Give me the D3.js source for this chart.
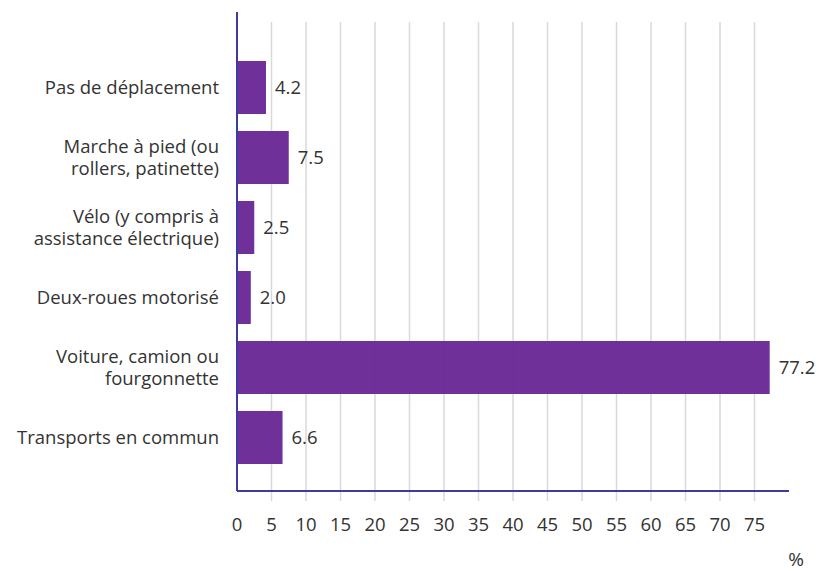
<!DOCTYPE html>
<html>
<head>
<meta charset="utf-8">
<script src="https://cdn.jsdelivr.net/npm/d3@7"></script>
<style>
  body { margin: 0; background: #fff; }
  svg { display: block; font-family: "Open Sans", sans-serif; }
</style>
</head>
<body>
<svg id="chart" width="820" height="571"></svg>
<script>
// Mode de transport principal pour aller travailler (%)
const categories = [
  ["Pas de déplacement"],
  ["Marche à pied (ou", "rollers, patinette)"],
  ["Vélo (y compris à", "assistance électrique)"],
  ["Deux-roues motorisé"],
  ["Voiture, camion ou", "fourgonnette"],
  ["Transports en commun"]
];
const values = [4.2, 7.5, 2.5, 2.0, 77.2, 6.6];
const tickValues = [0, 5, 10, 15, 20, 25, 30, 35, 40, 45, 50, 55, 60, 65, 70, 75];
const unitLabel = "%";

const svg = d3.select("#chart");
const x0 = 237, x1 = 789, yAxis = 491;
const fs = 18.5;

const x = d3.scaleLinear().domain([0, 80]).range([x0, x1]);
const y = d3.scaleBand()
  .domain(d3.range(categories.length))
  .range([44, 481])
  .paddingInner(0.243)
  .paddingOuter(0.243);

// vertical grid lines, extended below the axis as tick marks
svg.append("g")
  .selectAll("line")
  .data(tickValues.slice(1))
  .join("line")
  .attr("x1", d => x(d)).attr("x2", d => x(d))
  .attr("y1", 22).attr("y2", yAxis + 10)
  .attr("stroke", "#d9d9d9")
  .attr("stroke-width", 1.5);

// bars
svg.append("g")
  .selectAll("rect")
  .data(values)
  .join("rect")
  .attr("x", x(0))
  .attr("y", (d, i) => y(i))
  .attr("width", d => x(d) - x(0))
  .attr("height", y.bandwidth())
  .attr("fill", "#6a2896")
  .attr("fill-opacity", 0.96);

// value labels
svg.append("g")
  .selectAll("text")
  .data(values)
  .join("text")
  .attr("x", d => x(d) + 9)
  .attr("y", (d, i) => y(i) + y.bandwidth() / 2)
  .attr("dy", "0.35em")
  .attr("font-size", fs)
  .attr("fill", "#333")
  .text(d => d.toFixed(1));

// category labels
const cat = svg.append("g")
  .selectAll("text")
  .data(categories)
  .join("text")
  .attr("text-anchor", "end")
  .attr("font-size", fs)
  .attr("fill", "#333")
  .attr("y", (d, i) => y(i) + y.bandwidth() / 2);
cat.each(function (lines) {
  const t = d3.select(this);
  const lh = 22;
  lines.forEach((ln, k) => {
    t.append("tspan")
      .attr("x", 219)
      .attr("dy", k === 0 ? (0.35 - (lines.length - 1) * lh / 2 / fs) + "em" : lh)
      .text(ln);
  });
});

// x tick labels
svg.append("g")
  .selectAll("text")
  .data(tickValues)
  .join("text")
  .attr("x", d => x(d))
  .attr("y", 525)
  .attr("dy", "0.35em")
  .attr("text-anchor", "middle")
  .attr("font-size", fs)
  .attr("fill", "#333")
  .text(d => d);

// axis lines
svg.append("line")
  .attr("x1", x0).attr("x2", x0)
  .attr("y1", 12).attr("y2", yAxis)
  .attr("stroke", "#3d3aa0").attr("stroke-width", 2);
svg.append("line")
  .attr("x1", x0).attr("x2", x1)
  .attr("y1", yAxis).attr("y2", yAxis)
  .attr("stroke", "#3d3aa0").attr("stroke-width", 2);

// unit
svg.append("text")
  .attr("x", 796)
  .attr("y", 566)
  .attr("text-anchor", "middle")
  .attr("font-size", 19)
  .attr("fill", "#333")
  .text(unitLabel);
</script>
</body>
</html>
